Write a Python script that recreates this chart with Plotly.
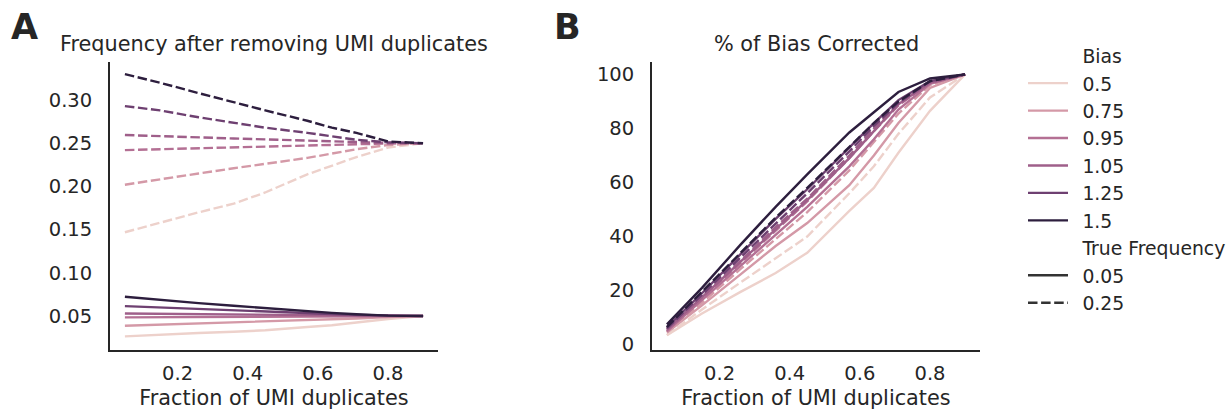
import numpy as np
import plotly.graph_objects as go

# ---------------- data ----------------
biases = [0.5, 0.75, 0.95, 1.05, 1.25, 1.5]
true_freqs = [0.05, 0.25]
x_dup = [0.05, 0.15, 0.26, 0.36, 0.45, 0.57, 0.64, 0.71, 0.80, 0.90]

# Panel A: observed frequency after removing UMI duplicates
freq_005 = {
    0.5:  [0.0265, 0.0285, 0.0303, 0.0318, 0.0335, 0.0373, 0.0393, 0.0425, 0.0466, 0.050],
    0.75: [0.0388, 0.0400, 0.0413, 0.0423, 0.0433, 0.0447, 0.0457, 0.0472, 0.0489, 0.050],
    0.95: [0.0485, 0.0487, 0.0489, 0.0491, 0.0493, 0.0495, 0.0496, 0.0498, 0.0499, 0.050],
    1.05: [0.0529, 0.0525, 0.0520, 0.0516, 0.0513, 0.0508, 0.0506, 0.0504, 0.0501, 0.050],
    1.25: [0.0615, 0.0598, 0.0580, 0.0563, 0.0550, 0.0533, 0.0523, 0.0513, 0.0504, 0.050],
    1.5:  [0.0723, 0.0685, 0.0650, 0.0619, 0.0590, 0.0556, 0.0537, 0.0520, 0.0505, 0.050],
}
freq_025 = {
    0.5:  [0.147, 0.158, 0.170, 0.180, 0.193, 0.214, 0.224, 0.234, 0.245, 0.250],
    0.75: [0.202, 0.2085, 0.215, 0.221, 0.226, 0.233, 0.238, 0.243, 0.248, 0.250],
    0.95: [0.242, 0.243, 0.2445, 0.2455, 0.246, 0.247, 0.248, 0.249, 0.2497, 0.250],
    1.05: [0.2595, 0.258, 0.2565, 0.2555, 0.2545, 0.253, 0.252, 0.251, 0.2503, 0.250],
    1.25: [0.293, 0.288, 0.280, 0.274, 0.268, 0.262, 0.258, 0.254, 0.251, 0.250],
    1.5:  [0.330, 0.320, 0.308, 0.297, 0.288, 0.276, 0.268, 0.262, 0.252, 0.250],
}

# Panel B: % of bias corrected
pct_005 = {
    0.5:  [3.5, 11.5, 19.5, 26.5, 34.0, 49.5, 58.0, 71.0, 86.5, 100],
    0.75: [4.5, 14.5, 26.0, 36.5, 45.0, 59.0, 70.0, 82.0, 95.0, 100],
    0.95: [5.0, 16.5, 29.5, 41.0, 51.0, 66.0, 76.0, 87.0, 96.5, 100],
    1.05: [5.5, 17.5, 31.0, 43.0, 53.5, 69.0, 79.0, 89.0, 97.0, 100],
    1.25: [6.5, 19.0, 33.5, 46.5, 57.5, 73.0, 82.0, 90.5, 97.5, 100],
    1.5:  [7.5, 21.0, 37.0, 51.0, 63.0, 78.5, 86.0, 93.5, 98.5, 100],
}
pct_025 = {
    0.5:  [3.5, 13.0, 23.0, 32.0, 40.0, 56.0, 66.0, 78.0, 91.5, 100],
    0.75: [4.5, 15.5, 28.0, 39.0, 49.0, 64.5, 75.0, 85.5, 96.0, 100],
    0.95: [5.0, 17.0, 30.5, 42.5, 53.0, 69.0, 79.0, 88.5, 97.0, 100],
    1.05: [5.5, 17.5, 31.0, 43.5, 54.0, 70.0, 80.0, 89.0, 97.0, 100],
    1.25: [6.0, 18.5, 32.5, 45.0, 56.0, 71.5, 81.0, 89.5, 97.5, 100],
    1.5:  [6.5, 19.5, 34.0, 47.0, 58.0, 73.0, 82.0, 90.0, 97.5, 100],
}

x_ticks = [0.2, 0.4, 0.6, 0.8]
yA_ticks = [0.05, 0.10, 0.15, 0.20, 0.25, 0.30]
yB_ticks = [0, 20, 40, 60, 80, 100]

# ---------------- colours (seaborn default cubehelix "ch:") ----------------
def cubehelix(v, start=0.0, rot=0.4, gamma=1.0, hue=0.8, light=0.85, dark=0.15):
    x = light + (dark - light) * v
    xg = x ** gamma
    a = hue * xg * (1 - xg) / 2
    phi = 2 * np.pi * (start / 3 + rot * x)
    r = xg + a * (-0.14861 * np.cos(phi) + 1.78277 * np.sin(phi))
    g = xg + a * (-0.29227 * np.cos(phi) - 0.90649 * np.sin(phi))
    b = xg + a * (1.97294 * np.cos(phi))
    r, g, b = [int(round(255 * min(max(c, 0), 1))) for c in (r, g, b)]
    return f"rgb({r},{g},{b})"

bmin, bmax = min(biases), max(biases)
colors = {b: cubehelix((b - bmin) / (bmax - bmin)) for b in biases}

TEXT = "#262626"
FONT = "DejaVu Sans"
LW = 2.4
DASH = "9.5px,3.6px"
TICK_FS = 19.5
TITLE_FS = 20.8
LEG_FS = 18.8

fig = go.Figure()

for b in biases:
    for f, style in zip(true_freqs, ["solid", DASH]):
        ya = freq_005[b] if f == 0.05 else freq_025[b]
        yb = pct_005[b] if f == 0.05 else pct_025[b]
        fig.add_trace(go.Scatter(x=x_dup, y=ya, mode="lines", xaxis="x", yaxis="y",
                                 line=dict(color=colors[b], width=LW, dash=style),
                                 showlegend=False, hoverinfo="skip"))
        fig.add_trace(go.Scatter(x=x_dup, y=yb, mode="lines", xaxis="x2", yaxis="y2",
                                 line=dict(color=colors[b], width=LW, dash=style),
                                 showlegend=False, hoverinfo="skip"))

# legend entries
PAD = "\u2002"
def leg(name, color, dash="solid"):
    fig.add_trace(go.Scatter(x=[None], y=[None], mode="lines", name=PAD + name,
                             xaxis="x2", yaxis="y2",
                             line=dict(color=color, width=LW, dash=dash)))

leg("Bias", "rgba(0,0,0,0)")
for b in biases:
    leg(str(b), colors[b])
leg("True Frequency", "rgba(0,0,0,0)")
leg(str(true_freqs[0]), "#333333")
leg(str(true_freqs[1]), "#333333", DASH)

W, H = 1228, 410
def px_x(p):
    return p / W
def px_y(p):
    return 1 - p / H

ydom = [px_y(350), px_y(62)]
axis_common = dict(showline=True, linecolor=TEXT, linewidth=1.8, showgrid=False,
                   zeroline=False, ticks="", automargin=False,
                   tickfont=dict(family=FONT, size=TICK_FS, color=TEXT))

fig.update_layout(
    width=W, height=H, margin=dict(l=0, r=0, t=0, b=0, autoexpand=False),
    plot_bgcolor="white", paper_bgcolor="white",
    font=dict(family=FONT, color=TEXT, size=TICK_FS),
    xaxis=dict(domain=[px_x(110), px_x(438)], range=[0.0075, 0.9425], anchor="y",
               tickvals=x_ticks, ticktext=[f"{v:.1f}" for v in x_ticks],
               ticklabelstandoff=5,
               title=dict(text="Fraction of UMI duplicates", font=dict(size=TITLE_FS), standoff=9),
               **axis_common),
    yaxis=dict(domain=ydom, range=[0.0107, 0.344], anchor="x",
               tickvals=yA_ticks, ticktext=[f"{v:.2f}" for v in yA_ticks],
               ticklabelstandoff=12, **axis_common),
    xaxis2=dict(domain=[px_x(652), px_x(980)], range=[0.0075, 0.9425], anchor="y2",
                tickvals=x_ticks, ticktext=[f"{v:.1f}" for v in x_ticks],
                ticklabelstandoff=5,
                title=dict(text="Fraction of UMI duplicates", font=dict(size=TITLE_FS), standoff=9),
                **axis_common),
    yaxis2=dict(domain=ydom, range=[-2.0, 104.6], anchor="x2",
                tickvals=yB_ticks, ticktext=[str(v) for v in yB_ticks],
                ticklabelstandoff=12, **axis_common),
    legend=dict(x=px_x(1023), y=px_y(37), xanchor="left", yanchor="top",
                font=dict(family=FONT, size=LEG_FS, color=TEXT), bgcolor="rgba(0,0,0,0)",
                itemwidth=40, tracegroupgap=0),
    annotations=[
        dict(text="<b>A</b>", x=px_x(9), y=px_y(27), xref="paper", yref="paper",
             xanchor="left", yanchor="middle", showarrow=False,
             font=dict(family=FONT, size=35, color=TEXT)),
        dict(text="<b>B</b>", x=px_x(552), y=px_y(27), xref="paper", yref="paper",
             xanchor="left", yanchor="middle", showarrow=False,
             font=dict(family=FONT, size=35, color=TEXT)),
        dict(text="Frequency after removing UMI duplicates", x=px_x(274), y=px_y(44),
             xref="paper", yref="paper", xanchor="center", yanchor="middle", showarrow=False,
             font=dict(family=FONT, size=TITLE_FS, color=TEXT)),
        dict(text="% of Bias Corrected", x=px_x(816), y=px_y(44),
             xref="paper", yref="paper", xanchor="center", yanchor="middle", showarrow=False,
             font=dict(family=FONT, size=TITLE_FS, color=TEXT)),
    ],
)

fig.write_html("out.html", config={"displayModeBar": False},
               post_script="document.body.style.margin='0';document.body.style.padding='0';")
